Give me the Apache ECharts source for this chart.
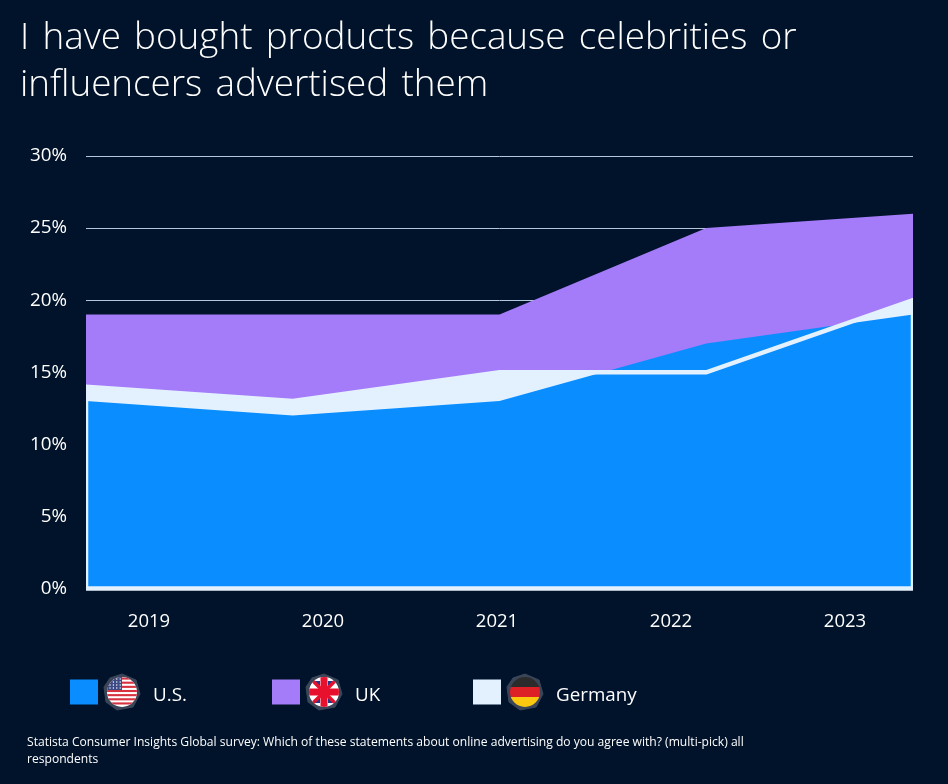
<!DOCTYPE html>
<html><head><meta charset="utf-8">
<style>html,body{margin:0;padding:0;background:#00132A;}#c{width:948px;height:784px;}</style>
<script src="https://cdn.jsdelivr.net/npm/echarts@6/dist/echarts.min.js"></script>
</head><body><div id="c"></div>
<script>
const years = ['2019','2020','2021','2022','2023'];
const us = [13,12,13,17,19];
const uk = [19,19,19,25,26];
const germany = [14,13,15,15,20];
const yTicks = [0,5,10,15,20,25,30];
const legendNames = ['U.S.','UK','Germany'];
const titleText = 'I have bought products because celebrities or\ninfluencers advertised them'.replace(/ /g,' \u200A');
const footnote = 'Statista Consumer Insights Global survey: Which of these statements about online advertising do you agree with? (multi-pick) all\nrespondents';
const BG='#00132A', BLUE='#0A8DFF', PURPLE='#A47BF9', ICE='#E3F1FE';

const HEX='19,1 33,7 37,21 30,34 14,37 3,29 1,14 7,5';
function flagSvg(inner){
  return 'data:image/svg+xml;charset=utf-8,'+encodeURIComponent(
   '<svg xmlns="http://www.w3.org/2000/svg" width="38" height="38" viewBox="0 0 38 38">'+
   '<defs><clipPath id="k"><circle cx="19" cy="19" r="15"/></clipPath></defs>'+
   '<polygon points="'+HEX+'" fill="#3A4558" stroke="#3A4558" stroke-width="1" stroke-linejoin="round"/>'+
   '<g clip-path="url(#k)">'+inner+'</g></svg>');
}
let stripes='<rect x="0" y="0" width="38" height="38" fill="#fff"/>';
for(let i=0;i<7;i++) stripes+='<rect x="0" y="'+(4.5+i*4.15)+'" width="38" height="2.1" fill="#D8313F"/>';
stripes+='<rect x="0" y="0" width="19" height="17" fill="#3C4A86"/>';
for(let r=0;r<4;r++)for(let c=0;c<4;c++) stripes+='<circle cx="'+(7+c*3.4)+'" cy="'+(6+r*3)+'" r="0.7" fill="#fff"/>';
const usFlag=flagSvg(stripes);
const ukFlag=flagSvg('<rect width="38" height="38" fill="#fff"/>'+
  '<polygon points="7,8 15,8 15,16" fill="#1F3A8A"/><polygon points="23,8 31,8 23,16" fill="#1F3A8A"/>'+
  '<polygon points="7,30 15,30 15,22" fill="#1F3A8A"/><polygon points="23,30 31,30 23,22" fill="#1F3A8A"/>'+
  '<path d="M4 4L34 34M34 4L4 34" stroke="#E8112D" stroke-width="3.5"/>'+
  '<rect x="15.5" y="0" width="7" height="38" fill="#E8112D"/><rect x="0" y="15.5" width="38" height="7" fill="#E8112D"/>');
const deFlag=flagSvg('<rect width="38" height="14" y="0" fill="#2B2B2B"/><rect width="38" height="10" y="14" fill="#DD1F26"/><rect width="38" height="14" y="24" fill="#FBC70F"/>');

const flags=[usFlag,ukFlag,deFlag];
const legendLeft=[70,272,473];
const chart=echarts.init(document.getElementById('c'),null,{renderer:'canvas'});
chart.setOption({
  animation:false,
  backgroundColor:BG,
  title:[
    {text:titleText,left:15,top:10,textStyle:{fontFamily:'Open Sans',fontWeight:300,fontSize:36.8,lineHeight:47,color:'#fff'}},
    {text:footnote,left:22,top:729,textStyle:{fontFamily:'Open Sans',fontWeight:400,fontSize:12.1,lineHeight:17,color:'#fff'}}
  ],
  grid:[
    {left:86,top:156,width:827,height:432.5},
    {left:62,top:156,width:870,height:432.5}
  ],
  xAxis:[
    {type:'category',gridIndex:0,data:years,boundaryGap:false,axisLine:{show:false},axisTick:{show:false},axisLabel:{show:false},splitLine:{show:false}},
    {type:'category',gridIndex:1,data:years,boundaryGap:true,axisLine:{show:false},axisTick:{show:false},splitLine:{show:false},
     axisLabel:{color:'#fff',fontFamily:'Open Sans',fontSize:18.5,margin:24}}
  ],
  yAxis:[
    {type:'value',gridIndex:0,min:0,max:30,interval:5,axisLine:{show:false},axisTick:{show:false},
     splitLine:{show:true,lineStyle:{color:'#B4C7DC',width:1}},
     axisLabel:{color:'#fff',fontFamily:'Open Sans',fontSize:18.8,margin:19,padding:[6,0,0,0],formatter:v=>yTicks.includes(v)?v+'%':''}},
    {type:'value',gridIndex:1,min:0,max:30,show:false}
  ],
  legend:legendNames.map((n,i)=>({
    left:legendLeft[i],top:673,padding:0,icon:'rect',itemWidth:28,itemHeight:25,itemGap:0,
    selectedMode:false,data:[n],
    formatter:'{f|}{sp|}{n|'+n+'}',
    textStyle:{color:'#fff',rich:{
      f:{width:38,height:38,backgroundColor:{image:flags[i]}},
      sp:{width:12},
      n:{fontFamily:'Open Sans',fontSize:18.8,color:'#fff',padding:[7,0,0,0]}
    }}
  })),
  series:[
    {name:'UK',type:'line',z:1,data:uk,symbol:'none',color:PURPLE,lineStyle:{width:0},areaStyle:{color:PURPLE,opacity:1}},
    {name:'Germany',type:'line',z:2,data:germany,symbol:'none',color:ICE,lineStyle:{width:0},areaStyle:{color:ICE,opacity:1}},
    {name:'U.S.',type:'line',z:3,data:us,symbol:'none',color:BLUE,lineStyle:{width:0},areaStyle:{color:BLUE,opacity:1}},
    {name:'Germany outline',type:'custom',z:4,clip:false,data:germany.map((v,i)=>[i,v]),encode:{x:0,y:1},
     renderItem(params,api){
       if(params.dataIndex!==0) return null;
       const pts=germany.map((v,i)=>api.coord([i,v]));
       const c=params.coordSys;
       pts.push(api.coord([germany.length-1,0]));
       pts.push(api.coord([0,0]));
       return {type:'polygon',shape:{points:pts},
         style:{fill:'none',stroke:ICE,lineWidth:4.5,lineJoin:'miter'},
         clipPath:{type:'rect',shape:{x:c.x,y:c.y-10,width:c.width,height:c.height+20}}};
     }}
  ]
});
</script></body></html>
